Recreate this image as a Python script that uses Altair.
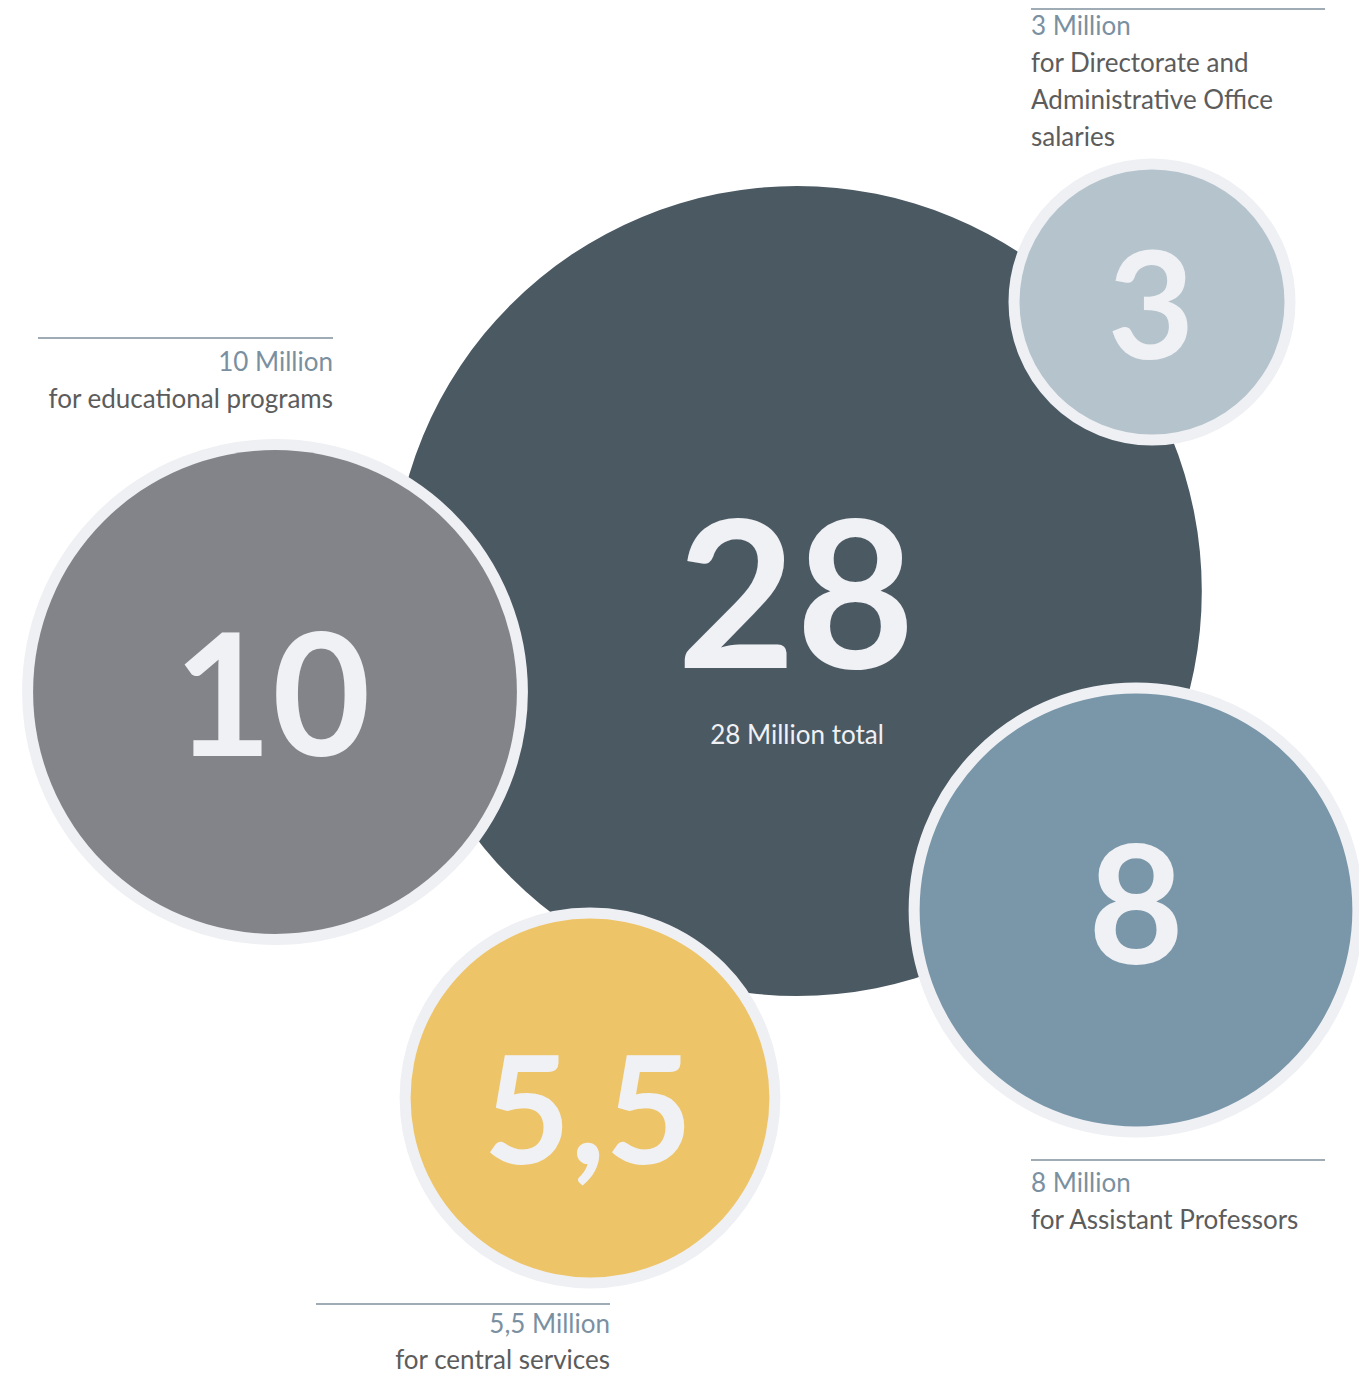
import altair as alt
import pandas as pd

# ---- data ----
names = ["total", "educational", "directorate", "assistant", "central"]
values = [28, 10, 3, 8, 5.5]
big_labels = ["28", "10", "3", "8", "5,5"]
amount_labels = ["28 Million total", "10 Million", "3 Million", "8 Million", "5,5 Million"]
descriptions = [
    "",
    "for educational programs",
    "for Directorate and\nAdministrative Office\nsalaries",
    "for Assistant Professors",
    "for central services",
]

# ---- styles ----
colors = ["#4B5963", "#838489", "#B4C3CC", "#7A97AA", "#EEC469"]
RING = "#EFF0F4"
NUM_COLOR = "#F0F1F5"
AMOUNT_COLOR = "#7A90A1"
DESC_COLOR = "#5C5C5C"
RULE_COLOR = "#7F909C"
FONT = "Lato"

# ---- layout (page pixel coordinates) ----
cx = [797, 275, 1152, 1136, 590]
cy = [591, 692, 302, 910, 1098]
num_x = [796, 272, 1151, 1136, 588]
num_y = [668, 756, 359, 964, 1164]
num_font = [205, 170, 150, 165, 150]
lab_x = [797, 333, 1031, 1031, 610]
lab_align = ["center", "right", "left", "left", "right"]
amt_y = [744, 371, 35, 1192, 1333]
desc_y = [0, 408, 72, 1229, 1369]
rule_y = [None, 338, 9, 1160, 1304]
rule_x1 = [None, 38, 1031, 1031, 316]
rule_x2 = [None, 333, 1325, 1325, 610]

df = pd.DataFrame({
    "name": names, "value": values, "big": big_labels, "amount": amount_labels,
    "desc": descriptions, "cx": cx, "cy": cy, "num_x": num_x, "num_y": num_y,
    "num_font": num_font, "lab_x": lab_x, "align": lab_align, "amt_y": amt_y,
    "desc_y": desc_y, "rule_y": rule_y, "rule_x1": rule_x1, "rule_x2": rule_x2,
    "idx": list(range(len(names))),
})

W, H = 1351, 1367
xs = alt.Scale(domain=[8, 8 + W], nice=False, zero=False)
ys = alt.Scale(domain=[8, 8 + H], nice=False, zero=False, reverse=True)
# Vega circle symbol: size = (2r)^2 ; area proportional to value
size_scale = alt.Scale(domain=[0, 28], range=[0, 4 * 76.5 ** 2 * 28])
color_scale = alt.Scale(domain=names, range=colors)

base = alt.Chart(df)

def pos(xf, yf):
    return dict(x=alt.X(f"{xf}:Q", scale=xs, axis=None),
                y=alt.Y(f"{yf}:Q", scale=ys, axis=None))

big_circle = base.transform_filter("datum.idx == 0").mark_circle(opacity=1).encode(
    **pos("cx", "cy"),
    size=alt.Size("value:Q", scale=size_scale, legend=None),
    color=alt.Color("name:N", scale=color_scale, legend=None),
)

rings = base.transform_filter("datum.idx > 0").mark_circle(
    opacity=1, fill=RING, stroke=RING, strokeWidth=22
).encode(
    **pos("cx", "cy"),
    size=alt.Size("value:Q", scale=size_scale, legend=None),
)

fills = base.transform_filter("datum.idx > 0").mark_circle(opacity=1).encode(
    **pos("cx", "cy"),
    size=alt.Size("value:Q", scale=size_scale, legend=None),
    color=alt.Color("name:N", scale=color_scale, legend=None),
)

numbers = base.mark_text(
    font=FONT, fontWeight="bold", color=NUM_COLOR, baseline="alphabetic", align="center"
).encode(
    **pos("num_x", "num_y"),
    text="big:N",
    size=alt.Size("num_font:Q", scale=None),
)

total_label = base.transform_filter("datum.idx == 0").mark_text(
    font=FONT, fontSize=26, color=NUM_COLOR, baseline="alphabetic", align="center"
).encode(**pos("lab_x", "amt_y"), text="amount:N")

rules = base.transform_filter("datum.idx > 0").mark_rule(
    color=RULE_COLOR, strokeWidth=1.5
).encode(
    x=alt.X("rule_x1:Q", scale=xs, axis=None),
    x2="rule_x2:Q",
    y=alt.Y("rule_y:Q", scale=ys, axis=None),
)

def labels(align):
    filt = f"datum.idx > 0 && datum.align == '{align}'"
    amt = base.transform_filter(filt).mark_text(
        font=FONT, fontSize=26, color=AMOUNT_COLOR, baseline="alphabetic", align=align
    ).encode(**pos("lab_x", "amt_y"), text="amount:N")
    desc = base.transform_filter(filt).mark_text(
        font=FONT, fontSize=26, color=DESC_COLOR, baseline="alphabetic", align=align,
        lineBreak="\n", lineHeight=37
    ).encode(**pos("lab_x", "desc_y"), text="desc:N")
    return [amt, desc]

chart = alt.layer(
    big_circle, rings, fills, numbers, total_label, rules,
    *labels("left"), *labels("right")
).properties(
    width=W, height=H, padding=0, background="white",
    autosize=alt.AutoSizeParams(type="none"),
).configure_view(stroke=None)

chart.save("out.html", embed_options={"renderer": "svg", "actions": False})
